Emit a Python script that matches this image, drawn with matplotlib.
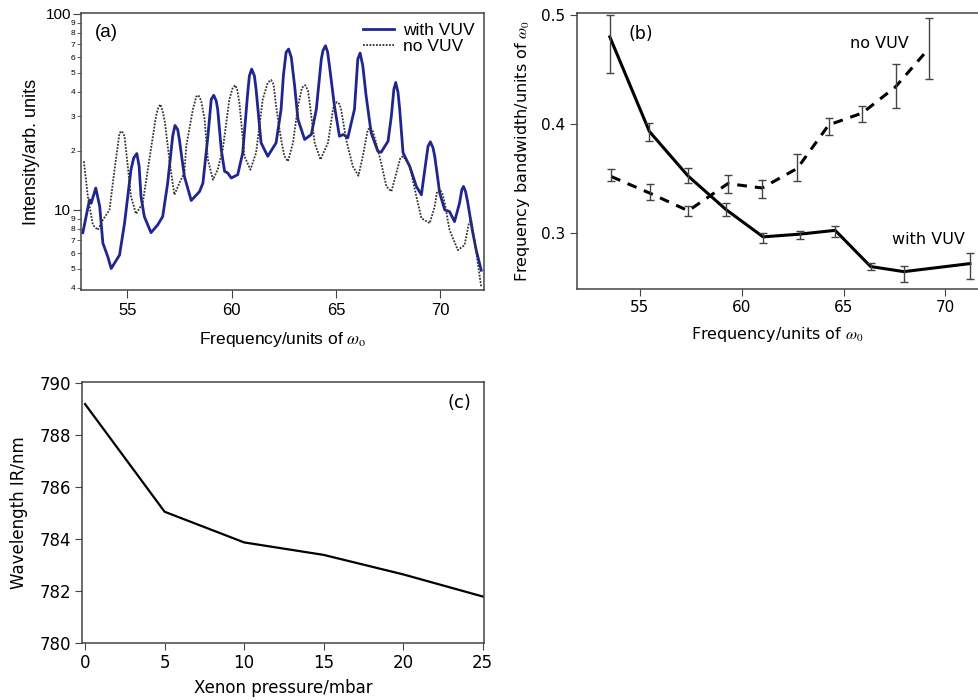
import numpy as np
import matplotlib
matplotlib.use("Agg")
import matplotlib.pyplot as plt
from matplotlib.ticker import FixedLocator, FixedFormatter

plt.rcParams['mathtext.fontset'] = 'stix'

# (a) harmonic spectra
freq_vuv = [52.86, 53.18, 53.26, 53.48, 53.67, 53.82, 54.06, 54.22, 54.38, 54.62,
            54.86, 55.17, 55.30, 55.45, 55.56, 55.65, 55.81, 56.13, 56.45, 56.69,
            56.93, 57.17, 57.28, 57.41, 57.49, 57.73, 58.06, 58.46, 58.62, 58.86,
            59.02, 59.14, 59.26, 59.33, 59.50, 59.66, 59.81, 59.98, 60.29, 60.53,
            60.77, 60.85, 60.96, 61.09, 61.17, 61.41, 61.73, 62.13, 62.37, 62.48,
            62.61, 62.73, 62.86, 63.02, 63.18, 63.50, 63.82, 64.06, 64.30, 64.38,
            64.50, 64.60, 64.69, 64.93, 65.17, 65.36, 65.57, 65.89, 66.05, 66.16,
            66.29, 66.45, 66.69, 67.01, 67.17, 67.50, 67.66, 67.78, 67.87, 67.98,
            68.06, 68.22, 68.54, 68.86, 69.10, 69.33, 69.42, 69.53, 69.66, 69.74,
            69.98, 70.22, 70.45, 70.69, 70.93, 71.04, 71.12, 71.22, 71.33, 71.54,
            71.73, 71.97]
int_vuv = [7.65, 11.25, 10.8, 12.92, 10.4, 6.77, 5.76, 5.02, 5.35, 5.88,
           8.55, 16.04, 18.4, 19.38, 16.7, 11.70, 9.24, 7.65, 8.38, 9.24,
           13.70, 23.76, 26.96, 25.7, 22.86, 14.82, 11.16, 12.41, 13.70, 23.76,
           36.65, 38.42, 35.9, 32.57, 20.31, 15.72, 15.43, 14.54, 15.12, 19.54,
           39.67, 48.3, 52.25, 48.3, 41.25, 21.98, 18.77, 21.98, 32.57, 48.3,
           63.63, 66.13, 60.0, 42.89, 28.94, 22.86, 24.24, 32.57, 58.78, 65.0,
           68.76, 64.0, 54.31, 33.86, 23.76, 24.24, 23.32, 32.57, 58.8, 63.10,
           54.3, 38.11, 24.74, 19.91, 19.68, 22.4, 30.10, 41.25, 44.65, 39.7,
           32.57, 19.54, 16.68, 13.17, 11.94, 18.05, 21.1, 22.24, 20.7, 18.77,
           12.18, 10.0, 9.80, 8.71, 10.82, 12.66, 13.17, 12.4, 10.82, 7.90,
           6.23, 4.92]

freq_novuv = [52.91, 53.10, 53.34, 53.58, 53.82, 54.14, 54.38, 54.62, 54.73, 54.86,
              54.93, 55.17, 55.41, 55.73, 56.05, 56.37, 56.48, 56.58, 56.69, 56.80,
              57.01, 57.25, 57.49, 57.73, 57.82, 58.14, 58.30, 58.41, 58.54, 58.70,
              58.86, 59.10, 59.33, 59.57, 59.89, 60.05, 60.17, 60.26, 60.37, 60.61,
              60.90, 61.17, 61.49, 61.73, 61.89, 62.01, 62.13, 62.37, 62.53, 62.70,
              62.94, 63.18, 63.37, 63.53, 63.66, 63.74, 63.98, 64.26, 64.62, 64.86,
              64.93, 65.06, 65.17, 65.25, 65.49, 65.81, 66.08, 66.29, 66.53, 66.66,
              66.77, 66.93, 67.17, 67.42, 67.66, 67.90, 68.09, 68.22, 68.35, 68.54,
              68.86, 69.10, 69.50, 69.74, 69.85, 69.98, 70.10, 70.22, 70.45, 70.85,
              71.17, 71.38, 71.49, 71.65, 71.81, 71.97]
int_novuv = [17.69, 11.70, 8.38, 7.90, 8.89, 10.0, 16.04, 24.7, 25.21, 23.8,
             20.31, 11.70, 9.54, 10.82, 18.05, 30.10, 33.2, 34.55, 31.9, 27.83,
             18.05, 11.94, 13.70, 15.43, 21.12, 32.57, 37.8, 38.42, 35.9, 28.94,
             18.05, 14.25, 16.04, 20.31, 36.65, 42.0, 43.25, 41.25, 35.25, 18.77,
             16.04, 19.54, 36.65, 44.6, 46.03, 43.7, 33.86, 22.86, 18.77, 17.69,
             21.98, 33.86, 42.0, 43.25, 40.5, 35.25, 21.98, 18.05, 21.98, 32.57,
             34.6, 35.50, 34.6, 32.57, 22.86, 16.68, 14.94, 18.77, 25.7, 26.24,
             25.2, 21.98, 17.36, 13.17, 12.41, 15.43, 18.4, 18.77, 18.05, 16.68,
             11.70, 9.07, 8.55, 10.40, 12.4, 12.66, 12.2, 10.82, 7.90, 6.23,
             6.61, 8.55, 8.89, 7.02, 5.33, 4.04]

# (b) bandwidth per harmonic
bw_freq_vuv = [53.53, 55.47, 57.37, 59.24, 61.05, 62.84, 64.59, 66.33, 67.96, 71.2]
bw_vuv = [0.480, 0.393, 0.352, 0.321, 0.296, 0.2985, 0.302, 0.2687, 0.264, 0.2714]
bw_vuv_lo = [0.447, 0.384, 0.346, 0.315, 0.290, 0.294, 0.296, 0.2656, 0.2545, 0.257]
bw_vuv_hi = [0.500, 0.401, 0.359, 0.327, 0.2996, 0.3015, 0.306, 0.2718, 0.269, 0.281]

bw_freq_novuv = [53.6, 55.52, 57.38, 59.32, 61.0, 62.73, 64.27, 65.92, 67.55, 69.17]
bw_novuv = [0.3515, 0.336, 0.320, 0.345, 0.341, 0.359, 0.399, 0.410, 0.434, 0.469]
bw_novuv_lo = [0.347, 0.330, 0.315, 0.336, 0.3316, 0.347, 0.390, 0.4016, 0.4145, 0.441]
bw_novuv_hi = [0.3583, 0.345, 0.324, 0.353, 0.3485, 0.3724, 0.4058, 0.4166, 0.455, 0.497]

# (c) IR wavelength vs xenon pressure
pressure = [0, 5, 10, 15, 20, 25]
wavelength = [789.2, 785.06, 783.88, 783.4, 782.65, 781.8]

fig = plt.figure(figsize=(9.79, 7.0), dpi=100)
spine_col = '#444444'
helv = 'Liberation Sans'

# ---- (a)
ax1 = fig.add_axes([0.0827, 0.5857, 0.4116, 0.3957])
ax1.plot(freq_vuv, int_vuv, color='#1f2690', linewidth=2.0, label='with VUV',
         solid_joinstyle='round')
ax1.plot(freq_novuv, int_novuv, color='#333333', linewidth=1.3,
         linestyle=(0, (1, 0.8)), label='no VUV')
ax1.set_yscale('log')
ax1.set_xlim(52.77, 72.1)
ax1.set_ylim(3.9, 101)
ax1.yaxis.set_major_locator(FixedLocator([10, 100]))
ax1.yaxis.set_major_formatter(FixedFormatter(['10', '100']))
minor_vals = [4, 5, 6, 7, 8, 9, 20, 30, 40, 50, 60, 70, 80, 90]
ax1.yaxis.set_minor_locator(FixedLocator(minor_vals))
ax1.yaxis.set_minor_formatter(FixedFormatter([str(v)[0] for v in minor_vals]))
ax1.set_xticks([55, 60, 65, 70])
ax1.tick_params(axis='x', which='major', direction='out', length=6,
                labelsize=12, color=spine_col, pad=3, labelfontfamily=helv)
ax1.tick_params(axis='y', which='major', direction='out', length=6,
                labelsize=11, color=spine_col, pad=1, labelfontfamily=helv)
ax1.tick_params(axis='y', which='minor', direction='out', length=3,
                labelsize=6, color=spine_col, pad=1, labelfontfamily=helv)
ax1.set_xlabel(r'Frequency/units of $\omega_\mathrm{o}$', family=helv,
               fontsize=12.5, labelpad=9)
ax1.set_ylabel('Intensity/arb. units', family=helv, fontsize=13, labelpad=4)
ax1.text(0.035, 0.93, '(a)', transform=ax1.transAxes, fontsize=13.5,
         family=helv, va='center')
ax1.legend(loc='upper right', frameon=False, handlelength=1.8,
           handletextpad=0.5, labelspacing=0.05, borderaxespad=0.15,
           prop={'family': helv, 'size': 12.5})
for s in ax1.spines.values():
    s.set_color(spine_col)
    s.set_linewidth(1.1)

# ---- (b)
ax2 = fig.add_axes([0.589, 0.5871, 0.41, 0.3943])
bw_vuv_err = [np.array(bw_vuv) - np.array(bw_vuv_lo), np.array(bw_vuv_hi) - np.array(bw_vuv)]
bw_novuv_err = [np.array(bw_novuv) - np.array(bw_novuv_lo), np.array(bw_novuv_hi) - np.array(bw_novuv)]
ax2.plot(bw_freq_vuv, bw_vuv, color='black', linewidth=2.2)
ax2.plot(bw_freq_novuv, bw_novuv, color='black', linewidth=2.2, linestyle=(0, (3.2, 2.6)))
ax2.errorbar(bw_freq_vuv, bw_vuv, yerr=bw_vuv_err, fmt='none', ecolor='#444444',
             elinewidth=1.0, capsize=3.2, capthick=1.0, zorder=3)
ax2.errorbar(bw_freq_novuv, bw_novuv, yerr=bw_novuv_err, fmt='none', ecolor='#444444',
             elinewidth=1.0, capsize=3.2, capthick=1.0, zorder=3)
ax2.set_xlim(51.9, 71.6)
ax2.set_ylim(0.248, 0.502)
ax2.set_xticks([55, 60, 65, 70])
ax2.set_yticks([0.3, 0.4, 0.5])
ax2.tick_params(direction='out', length=5, labelsize=11, color=spine_col, pad=3)
ax2.set_xlabel(r'Frequency/units of $\omega_0$', fontsize=11.5, labelpad=7)
ax2.set_ylabel(r'Frequency bandwidth/units of $\omega_0$', fontsize=11.5, labelpad=7)
ax2.text(0.128, 0.924, '(b)', transform=ax2.transAxes, fontsize=12.5, va='center')
ax2.text(0.681, 0.889, 'no VUV', transform=ax2.transAxes, fontsize=11.5, va='center')
ax2.text(0.785, 0.178, 'with VUV', transform=ax2.transAxes, fontsize=11.5, va='center')
for s in ax2.spines.values():
    s.set_color(spine_col)
    s.set_linewidth(1.1)
ax2.spines['right'].set_visible(False)

# ---- (c)
ax3 = fig.add_axes([0.0838, 0.081, 0.4106, 0.3733])
ax3.plot(pressure, wavelength, color='black', linewidth=1.6)
ax3.set_xlim(-0.19, 25.08)
ax3.set_ylim(780, 790.05)
ax3.set_xticks([0, 5, 10, 15, 20, 25])
ax3.set_yticks([780, 782, 784, 786, 788, 790])
ax3.tick_params(direction='out', length=5, labelsize=12, color=spine_col, pad=3)
ax3.set_xlabel('Xenon pressure/mbar', fontsize=12, labelpad=5)
ax3.set_ylabel('Wavelength IR/nm', fontsize=12, labelpad=8)
ax3.text(0.969, 0.921, '(c)', transform=ax3.transAxes, fontsize=13,
         va='center', ha='right')
for s in ax3.spines.values():
    s.set_color(spine_col)
    s.set_linewidth(1.1)

fig.savefig('out.png', dpi=100)
